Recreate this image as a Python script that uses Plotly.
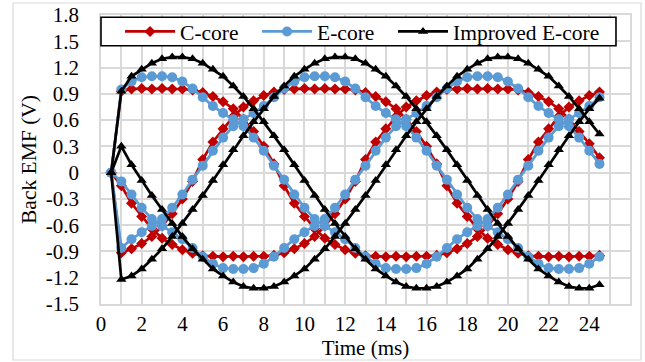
import plotly.graph_objects as go

# ---------------- data ----------------
time_ms = [0.5, 1.0, 1.5, 2.0, 2.5, 3.0, 3.5, 4.0, 4.5, 5.0, 5.5, 6.0, 6.5, 7.0, 7.5, 8.0,
           8.5, 9.0, 9.5, 10.0, 10.5, 11.0, 11.5, 12.0, 12.5, 13.0, 13.5, 14.0, 14.5, 15.0,
           15.5, 16.0, 16.5, 17.0, 17.5, 18.0, 18.5, 19.0, 19.5, 20.0, 20.5, 21.0, 21.5,
           22.0, 22.5, 23.0, 23.5, 24.0, 24.5]

c_core_a = [0, 0.93, 0.955, 0.96, 0.955, 0.96, 0.955, 0.955, 0.945, 0.915, 0.87, 0.81, 0.73,
            0.61, 0.47, 0.30, 0.10, -0.15, -0.35, -0.50, -0.64, -0.75, -0.82, -0.88, -0.92,
            -0.95, -0.955, -0.96, -0.955, -0.96, -0.955, -0.955, -0.945, -0.915, -0.87, -0.81,
            -0.73, -0.61, -0.47, -0.30, -0.10, 0.15, 0.35, 0.50, 0.64, 0.75, 0.82, 0.88, 0.92]
c_core_b = [0, -0.915, -0.87, -0.81, -0.73, -0.61, -0.47, -0.30, -0.10, 0.15, 0.35, 0.50, 0.64,
            0.75, 0.82, 0.88, 0.92, 0.95, 0.955, 0.96, 0.955, 0.96, 0.955, 0.955, 0.945, 0.915,
            0.87, 0.81, 0.73, 0.61, 0.47, 0.30, 0.10, -0.15, -0.35, -0.50, -0.64, -0.75, -0.82,
            -0.88, -0.92, -0.95, -0.955, -0.96, -0.955, -0.96, -0.955, -0.955, -0.945]
c_core_c = [0, -0.15, -0.35, -0.50, -0.64, -0.75, -0.82, -0.88, -0.92, -0.95, -0.955, -0.96,
            -0.955, -0.96, -0.955, -0.955, -0.945, -0.915, -0.87, -0.81, -0.73, -0.61, -0.47,
            -0.30, -0.10, 0.15, 0.35, 0.50, 0.64, 0.75, 0.82, 0.88, 0.92, 0.95, 0.955, 0.96,
            0.955, 0.96, 0.955, 0.955, 0.945, 0.915, 0.87, 0.81, 0.73, 0.61, 0.47, 0.33, 0.17]

e_core_a = [0, 0.95, 1.04, 1.09, 1.10, 1.10, 1.09, 1.04, 0.96, 0.86, 0.76, 0.68, 0.61, 0.53,
            0.40, 0.25, 0.08, -0.08, -0.25, -0.40, -0.53, -0.61, -0.68, -0.76, -0.86, -0.96,
            -1.04, -1.09, -1.10, -1.10, -1.09, -1.04, -0.96, -0.86, -0.76, -0.68, -0.61, -0.53,
            -0.40, -0.25, -0.08, 0.08, 0.25, 0.40, 0.53, 0.61, 0.68, 0.76, 0.86]
e_core_b = [0, -0.86, -0.76, -0.68, -0.61, -0.53, -0.40, -0.25, -0.08, 0.08, 0.25, 0.40, 0.53,
            0.61, 0.68, 0.76, 0.86, 0.96, 1.04, 1.09, 1.10, 1.10, 1.09, 1.04, 0.96, 0.86, 0.76,
            0.68, 0.61, 0.53, 0.40, 0.25, 0.08, -0.08, -0.25, -0.40, -0.53, -0.61, -0.68, -0.76,
            -0.86, -0.96, -1.04, -1.09, -1.10, -1.10, -1.09, -1.04, -0.96]
e_core_c = [0, -0.10, -0.25, -0.40, -0.53, -0.61, -0.68, -0.76, -0.86, -0.96, -1.04, -1.09,
            -1.10, -1.10, -1.09, -1.04, -0.96, -0.86, -0.76, -0.68, -0.61, -0.53, -0.40, -0.25,
            -0.08, 0.08, 0.25, 0.40, 0.53, 0.61, 0.68, 0.76, 0.86, 0.96, 1.04, 1.09, 1.10, 1.10,
            1.09, 1.04, 0.96, 0.86, 0.76, 0.68, 0.61, 0.53, 0.40, 0.25, 0.10]

imp_e_core_a = [0, 0.93, 1.10, 1.18, 1.25, 1.30, 1.32, 1.32, 1.30, 1.25, 1.18, 1.10, 0.99,
                0.87, 0.73, 0.58, 0.42, 0.26, 0.09, -0.09, -0.26, -0.42, -0.58, -0.73, -0.87,
                -0.99, -1.10, -1.18, -1.25, -1.30, -1.32, -1.32, -1.30, -1.25, -1.18, -1.10,
                -0.99, -0.87, -0.73, -0.58, -0.42, -0.26, -0.09, 0.09, 0.26, 0.42, 0.58, 0.73, 0.85]
imp_e_core_b = [0, -1.22, -1.18, -1.10, -0.99, -0.87, -0.73, -0.58, -0.42, -0.26, -0.09, 0.09,
                0.26, 0.42, 0.58, 0.73, 0.87, 0.99, 1.10, 1.18, 1.25, 1.30, 1.32, 1.32, 1.30,
                1.25, 1.18, 1.10, 0.99, 0.87, 0.73, 0.58, 0.42, 0.26, 0.09, -0.09, -0.26, -0.42,
                -0.58, -0.73, -0.87, -0.99, -1.10, -1.18, -1.25, -1.30, -1.32, -1.32, -1.28]
imp_e_core_c = [0, 0.30, 0.09, -0.09, -0.26, -0.42, -0.58, -0.73, -0.87, -0.99, -1.10, -1.18,
                -1.25, -1.30, -1.32, -1.32, -1.30, -1.25, -1.18, -1.10, -0.99, -0.87, -0.73,
                -0.58, -0.42, -0.26, -0.09, 0.09, 0.26, 0.42, 0.58, 0.73, 0.87, 0.99, 1.10, 1.18,
                1.25, 1.30, 1.32, 1.32, 1.30, 1.25, 1.18, 1.10, 0.99, 0.87, 0.73, 0.58, 0.44]

x_tick_vals = [0, 2, 4, 6, 8, 10, 12, 14, 16, 18, 20, 22, 24]
y_tick_vals = [-1.5, -1.2, -0.9, -0.6, -0.3, 0, 0.3, 0.6, 0.9, 1.2, 1.5, 1.8]
y_tick_text = ["-1.5", "-1.2", "-0.9", "-0.6", "-0.3", "0", "0.3", "0.6", "0.9", "1.2", "1.5", "1.8"]

groups = [
    ("C-core", [c_core_a, c_core_b, c_core_c], "#C00000", "diamond", 8.5, "legend", 0.036),
    ("E-core", [e_core_a, e_core_b, e_core_c], "#5B9BD5", "circle", 10, "legend2", 0.295),
    ("Improved E-core", [imp_e_core_a, imp_e_core_b, imp_e_core_c], "#000000", "triangle-up", 9, "legend3", 0.552),
]

FONT = "Liberation Serif, Times New Roman, Times, DejaVu Serif, serif"
GRID = "#D9D9D9"

fig = go.Figure()
for name, phases, color, symbol, msize, leg, _ in groups:
    for i, ys in enumerate(phases):
        fig.add_trace(go.Scatter(
            x=time_ms, y=ys, mode="lines+markers", name=name,
            legend=leg, legendgroup=name, showlegend=(i == 0),
            line=dict(color=color, width=2.7),
            marker=dict(symbol=symbol, size=msize, color=color),
        ))

legend_common = dict(
    orientation="h", xanchor="left", y=0.943, yanchor="middle",
    bgcolor="rgba(0,0,0,0)", borderwidth=0, itemwidth=50,
    font=dict(family=FONT, size=21.5, color="black"),
)
legends = {}
for name, _, _, _, _, leg, lx in groups:
    legends[leg] = dict(legend_common, x=lx)

fig.update_layout(
    width=645, height=362,
    margin=dict(l=101, r=15, t=15, b=58, autoexpand=False),
    paper_bgcolor="white", plot_bgcolor="white",
    font=dict(family=FONT, size=21, color="black"),
    showlegend=True,
    xaxis=dict(
        range=[0, 26], tickmode="array", tickvals=x_tick_vals,
        showgrid=True, gridcolor=GRID, gridwidth=1.8,
        minor=dict(tickmode="linear", tick0=0, dtick=1, showgrid=True, gridcolor=GRID, gridwidth=1.8),
        zeroline=False, showline=True, linecolor=GRID, linewidth=1.8, mirror=True,
        ticks="", ticklabelstandoff=0, automargin=False,
        tickfont=dict(family=FONT, size=21),
        title=dict(text="Time (ms)", font=dict(family=FONT, size=21), standoff=0),
    ),
    yaxis=dict(
        range=[-1.5, 1.8], tickmode="array", tickvals=y_tick_vals, ticktext=y_tick_text,
        showgrid=True, gridcolor=GRID, gridwidth=1.8,
        zeroline=False, showline=True, linecolor=GRID, linewidth=1.8, mirror=True,
        ticks="", ticklabelstandoff=16, automargin=False,
        tickfont=dict(family=FONT, size=21),
        title=dict(text="Back EMF (V)", font=dict(family=FONT, size=21.5), standoff=3),
    ),
    shapes=[
        dict(type="rect", xref="paper", yref="paper",
             x0=-0.1664, x1=1.0208, y0=-0.1938, y1=1.0415,
             line=dict(color=GRID, width=1.2), fillcolor="rgba(0,0,0,0)", layer="below"),
        dict(type="rect", xref="paper", yref="paper",
             x0=0.0, x1=0.9735, y0=0.8938, y1=0.992,
             line=dict(color="black", width=1.6), fillcolor="white", layer="above"),
    ],
    **legends,
)

fig.write_html("out.html")
